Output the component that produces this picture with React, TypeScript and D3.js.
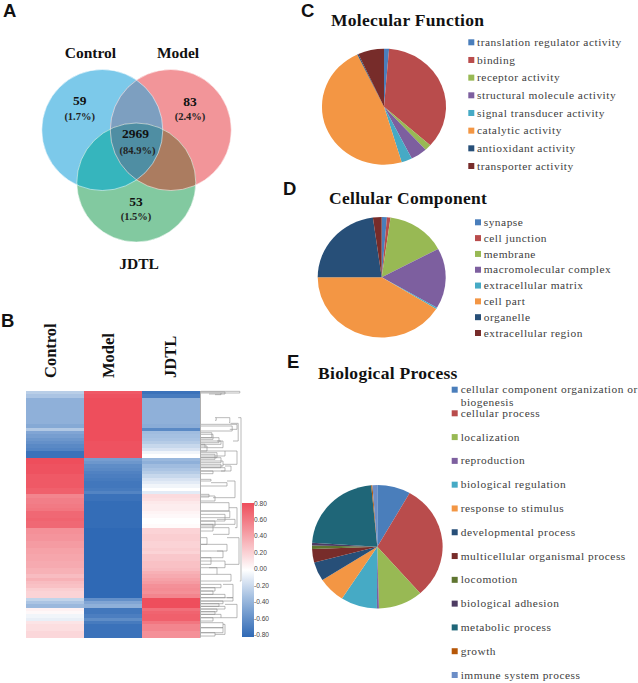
import React from 'react';
import * as d3 from 'd3';

const W = 638;
const H = 683;

// Venn
const vennLabels = ['Control', 'Model', 'JDTL'];
const vennCounts = ['59', '83', '53', '2969'];
const vennPercents = ['(1.7%)', '(2.4%)', '(1.5%)', '(84.9%)'];

// Heatmap, one value per row, top to bottom
const heatColumns = ['Control', 'Model', 'JDTL'];
const controlRows = [
  -0.25, -0.3, -0.4, -0.4, -0.4, -0.4, -0.4, -0.4, -0.4, -0.4, -0.44, -0.28, -0.46, -0.5, -0.54, -0.58, -0.62, -0.65, -0.75, -0.75,
  0.8, 0.8, 0.78, 0.78, 0.78, 0.75, 0.75, 0.75, 0.75, 0.72, 0.72,
  0.55, 0.58, 0.58, 0.6, 0.62, 0.68, 0.68, 0.7, 0.68, 0.68,
  0.5, 0.5, 0.48, 0.48, 0.45, 0.45, 0.42, 0.42, 0.4, 0.4, 0.38, 0.38, 0.35, 0.35, 0.3, 0.35, 0.3, 0.28, 0.22, 0.2, 0.2,
  -0.22, -0.3, -0.36, 0.06, 0.03, -0.05, -0.08, 0.12, 0.15, 0.15, 0.18, 0.18,
];
const modelRows = [
  0.75, 0.78, 0.8, 0.8, 0.8, 0.8, 0.8, 0.8, 0.8, 0.8, 0.8, 0.8, 0.8, 0.8, 0.8, 0.78, 0.78, 0.78, 0.78, 0.78,
  -0.5, -0.54, -0.6, -0.62, -0.66, -0.68, -0.7, -0.72, -0.72, -0.7, -0.65,
  -0.75, -0.75, -0.78, -0.78, -0.78, -0.78, -0.78, -0.78, -0.78, -0.78,
  -0.8, -0.8, -0.8, -0.8, -0.8, -0.8, -0.8, -0.8, -0.8, -0.8, -0.8, -0.8, -0.8, -0.8, -0.8, -0.8, -0.8, -0.8, -0.8, -0.8, -0.8,
  -0.58, -0.46, -0.4, -0.72, -0.72, -0.68, -0.6, -0.7, -0.75, -0.75, -0.75, -0.75,
];
const jdtlRows = [
  -0.75, -0.7, -0.4, -0.4, -0.4, -0.4, -0.4, -0.4, -0.4, -0.4, -0.42, -0.62, -0.34, -0.32, -0.3, -0.26, -0.2, -0.14, -0.05, 0,
  -0.36, -0.4, -0.34, -0.3, -0.26, -0.2, -0.14, -0.1, -0.05, 0, -0.1,
  0.16, 0.14, 0.1, 0.08, 0.08, 0.05, 0.03, 0, 0, 0.02,
  0.2, 0.2, 0.22, 0.22, 0.2, 0.2, 0.22, 0.2, 0.25, 0.25, 0.28, 0.28, 0.3, 0.35, 0.38, 0.42, 0.45, 0.5, 0.52, 0.5, 0.55,
  0.85, 0.8, 0.8, 0.65, 0.7, 0.72, 0.72, 0.62, 0.55, 0.55, 0.5, 0.5,
];
const heatTicks = [0.8, 0.6, 0.4, 0.2, 0, -0.2, -0.4, -0.6, -0.8];

// Dendrogram merges: top row, bottom row, join height, top child height, bottom child height
const merges = [
  [0.1, 0.6, 0.97, 0, 0.5], [0.6, 1.1, 0.5, 0, 0.35], [0.3, 0.9, 0.6, 0, 0.2],
  [8, 9.5, 0.72, 0.38, 0.7], [8, 8.8, 0.38, 0.35, 0.35], [10, 11.5, 0.9, 0, 0.72], [10.5, 12, 0.78, 0, 0],
  [9.7, 15, 0.93, 0.74, 0.8], [12.5, 14, 0.27, 0, 0], [13, 14.5, 0.3, 0, 0], [14, 15.5, 0.45, 0, 0], [15, 16, 0.5, 0, 0],
  [16, 17, 0.1, 0, 0], [16.5, 18, 0.15, 0, 0], [15, 17, 0.55, 0.4, 0.1],
  [8, 57, 1, 0.93, 0.97],
  [18, 19.5, 0.6, 0, 0], [18.5, 20, 0.4, 0, 0], [19, 20.5, 0.35, 0, 0], [20, 21.5, 0.5, 0, 0], [21, 22.5, 0.55, 0, 0],
  [22, 23, 0.5, 0, 0], [23, 24, 0.6, 0, 0], [24, 24.8, 0.3, 0, 0], [18, 22, 0.9, 0.6, 0.55], [22.5, 24, 0.75, 0.6, 0.5],
  [26.5, 27, 0.25, 0, 0], [27.5, 28.5, 0.65, 0.25, 0], [27, 32, 0.85, 0.65, 0.3], [31, 31.8, 0.2, 0, 0], [31.5, 33, 0.35, 0, 0],
  [33.5, 36, 0.7, 0, 0], [36, 38, 0.72, 0, 0], [37, 39, 0.6, 0, 0], [38.5, 40, 0.85, 0.4, 0], [39, 40.5, 0.35, 0, 0],
  [40, 42, 0.3, 0, 0], [41, 43, 0.7, 0, 0.3], [35, 41, 0.9, 0.7, 0.85],
  [44, 46, 0.15, 0, 0], [46, 48, 0.65, 0, 0.4], [48, 50, 0.55, 0, 0], [50, 52, 0.25, 0, 0], [51, 53, 0.6, 0, 0.2],
  [44, 52, 0.95, 0.65, 0.6], [53, 55, 0.4, 0, 0], [55, 57, 0.75, 0.4, 0],
  [58, 59, 0.5, 0, 0], [59, 60, 0.35, 0, 0], [60, 61, 0.3, 0, 0], [61, 62, 0.6, 0, 0], [58, 62, 0.8, 0.55, 0.65],
  [62, 63, 0.8, 0, 0], [63, 63.8, 0.55, 0, 0], [63.8, 64.6, 0.45, 0, 0], [64.6, 65.4, 0.6, 0, 0], [65.4, 66.2, 0.4, 0, 0],
  [66.2, 67, 0.35, 0, 0], [67, 68, 0.5, 0, 0], [68, 69, 0.3, 0, 0], [64, 68, 0.9, 0.6, 0.5],
  [69.5, 71, 0.55, 0, 0], [71, 72.5, 0.55, 0, 0], [72.5, 73.5, 0.35, 0, 0], [70, 73, 0.6, 0.55, 0.35],
];

// Pie C
const mfLabels = [
  'translation regulator activity', 'binding', 'receptor activity', 'structural molecule activity',
  'signal transducer activity', 'catalytic activity', 'antioxidant activity', 'transporter activity',
];
const mfValues = [1.3, 35.3, 1.7, 4.3, 2.8, 47.5, 0.3, 6.8];

// Pie D
const ccLabels = [
  'synapse', 'cell junction', 'membrane', 'macromolecular complex',
  'extracellular matrix', 'cell part', 'organelle', 'extracellular region',
];
const ccValues = [1.3, 0.9, 15, 16.2, 0.4, 41.2, 22.8, 2.2];

// Pie E
const bpLabels = [
  'cellular component organization or|biogenesis', 'cellular process', 'localization', 'reproduction',
  'biological regulation', 'response to stimulus', 'developmental process', 'multicellular organismal process',
  'locomotion', 'biological adhesion', 'metabolic process', 'growth', 'immune system process',
];
const bpValues = [8.25, 30.35, 11, 0.5, 9, 6.8, 5, 3.5, 0.9, 0.7, 22.5, 0.3, 1.2];

const pieColors = [
  '#4a7ebb', '#b94c4c', '#98b954', '#7d5f9f', '#46aac5', '#f39644', '#274f78', '#772c2a',
  '#5f7530', '#4d3b62', '#1f6678', '#b65708', '#6c8ec7',
];

const serif = '"Liberation Serif", serif';
const sans = '"Liberation Sans", sans-serif';

const heatColor = d3
  .scaleLinear<string>()
  .domain([-0.8, -0.4, 0, 0.4, 0.8])
  .range(['#2f69b5', '#8fb0d9', '#ffffff', '#f6a6ac', '#ee4e5c'])
  .clamp(true);

const Pie: React.FC<{ values: number[]; cx: number; cy: number; rx: number; ry: number }> = ({ values, cx, cy, rx, ry }) => {
  const arcs = d3.pie<number>().sort(null)(values);
  const arc = d3.arc<d3.PieArcDatum<number>>().innerRadius(0).outerRadius(1);
  return (
    <g transform={`translate(${cx},${cy}) scale(${rx},${ry})`}>
      {arcs.map((a, i) => (
        <path key={i} d={arc(a)!} fill={pieColors[i]} />
      ))}
    </g>
  );
};

const Legend: React.FC<{
  labels: string[];
  boxX: number;
  textX: number;
  rows: (i: number) => number;
  lineGap?: number;
}> = ({ labels, boxX, textX, rows, lineGap = 12.6 }) => (
  <g>
    {labels.map((label, i) => (
      <g key={label}>
        <rect x={boxX} y={rows(i) - 3} width={6} height={6} fill={pieColors[i]} />
        {label.split('|').map((line, j) => (
          <text
            key={j}
            x={textX}
            y={rows(i) + 3.6 + j * lineGap}
            fontFamily={serif}
            fontSize={11.4}
            letterSpacing={0.52}
            fill="#404040"
          >
            {line}
          </text>
        ))}
      </g>
    ))}
  </g>
);

const Venn: React.FC = () => {
  const circles = [
    { cx: 102.3, cy: 130, r: 60.5, fill: '#7cc9ea' },
    { cx: 170.8, cy: 130, r: 60.5, fill: '#f29599' },
    { cx: 136.3, cy: 182.5, r: 59.5, fill: '#82c9a0' },
  ];
  const [c, m, j] = circles;
  const countStyle = { fontFamily: serif, fontWeight: 700, fontSize: 13.5, textAnchor: 'middle' as const, fill: '#111' };
  const pctStyle = { fontFamily: serif, fontWeight: 700, fontSize: 10.5, textAnchor: 'middle' as const, fill: '#222' };
  const nameStyle = { fontFamily: serif, fontWeight: 700, fontSize: 15.5, textAnchor: 'middle' as const, fill: '#111' };
  const spots = [
    { x: 79.7, y: 105, py: 120 },
    { x: 190, y: 106, py: 120 },
    { x: 136, y: 206, py: 220 },
    { x: 135.5, y: 138, py: 154 },
  ];
  return (
    <g>
      <defs>
        <clipPath id="clipC"><circle cx={c.cx} cy={c.cy} r={c.r} /></clipPath>
        <clipPath id="clipM"><circle cx={m.cx} cy={m.cy} r={m.r} /></clipPath>
        <clipPath id="clipJ"><circle cx={j.cx} cy={j.cy} r={j.r} /></clipPath>
      </defs>
      {circles.map((d, i) => (
        <circle key={i} cx={d.cx} cy={d.cy} r={d.r} fill={d.fill} />
      ))}
      <g clipPath="url(#clipC)"><circle cx={m.cx} cy={m.cy} r={m.r} fill="#7d9fc0" /></g>
      <g clipPath="url(#clipC)"><circle cx={j.cx} cy={j.cy} r={j.r} fill="#36b5bd" /></g>
      <g clipPath="url(#clipM)"><circle cx={j.cx} cy={j.cy} r={j.r} fill="#ab7c60" /></g>
      <g clipPath="url(#clipC)">
        <g clipPath="url(#clipM)"><circle cx={j.cx} cy={j.cy} r={j.r} fill="#4f8ea3" /></g>
      </g>
      {circles.map((d, i) => (
        <circle key={i} cx={d.cx} cy={d.cy} r={d.r} fill="none" stroke="#ffffff" strokeOpacity={0.75} strokeWidth={0.7} />
      ))}
      <text x={90.5} y={58} {...nameStyle}>{vennLabels[0]}</text>
      <text x={178} y={58} {...nameStyle}>{vennLabels[1]}</text>
      <text x={139} y={269} {...nameStyle}>{vennLabels[2]}</text>
      {spots.map((s, i) => (
        <g key={i}>
          <text x={s.x} y={s.y} {...countStyle}>{vennCounts[i]}</text>
          <text x={s.x + (i === 3 ? 2 : 0)} y={s.py} {...pctStyle}>{vennPercents[i]}</text>
        </g>
      ))}
    </g>
  );
};

const Heatmap: React.FC = () => {
  const x = d3.scaleBand().domain(heatColumns).range([26, 200]);
  const rowIds = d3.range(controlRows.length);
  const y = d3.scaleBand<number>().domain(rowIds).range([391, 637.7]);
  const rowMid = d3.scaleLinear().domain([0, controlRows.length]).range([391, 637.7]);
  const depth = d3.scaleLinear().domain([0, 1]).range([201, 241]);
  const series = [controlRows, modelRows, jdtlRows];
  const tickY = d3.scalePoint<number>().domain(heatTicks).range([503, 634.5]);
  const stops = d3.range(0, 1.001, 0.1);
  const headX = [56, 114, 175.5];
  return (
    <g>
      {heatColumns.map((name, ci) => (
        <g key={name}>
          {rowIds.map(r => (
            <rect
              key={r}
              x={x(name)}
              y={y(r)}
              width={x.bandwidth()}
              height={y.bandwidth() + 0.5}
              fill={heatColor(series[ci][r])}
              shapeRendering="crispEdges"
            />
          ))}
          <text
            transform={`translate(${headX[ci]},378) rotate(-90)`}
            fontFamily={serif}
            fontWeight={700}
            fontSize={16.5}
            fill="#111"
          >
            {name}
          </text>
        </g>
      ))}
      <line x1={200.5} x2={200.5} y1={391} y2={637.7} stroke="#9a9a9a" strokeWidth={0.8} />
      <g fill="none" stroke="#8c8c8c" strokeWidth={0.6}>
        {merges.map(([r1, r2, d, d1, d2], i) => (
          <path
            key={i}
            d={`M${depth(d1)},${rowMid(r1)}H${depth(d)}V${rowMid(r2)}H${depth(d2)}`}
          />
        ))}
      </g>
      <defs>
        <linearGradient id="heatBar" x1="0" y1="0" x2="0" y2="1">
          {stops.map(t => (
            <stop key={t} offset={t} stopColor={heatColor(0.8 - 1.6 * t)} />
          ))}
        </linearGradient>
      </defs>
      <rect x={242} y={503} width={12} height={134} fill="url(#heatBar)" />
      {heatTicks.map(t => (
        <text key={t} x={254} y={tickY(t)! + 2.5} fontFamily={sans} fontSize={6.6} fill="#444">
          {d3.format('.2f')(t).replace('−', '-')}
        </text>
      ))}
    </g>
  );
};

export default function App() {
  const titleStyle = { fontFamily: serif, fontWeight: 700, fontSize: 17.5, fill: '#111', letterSpacing: 0.3 };
  const panelStyle = { fontFamily: sans, fontWeight: 700, fontSize: 18.5, fill: '#111' };
  const mfRow = d3.scaleLinear().domain([0, 7]).range([42.3, 166]);
  const ccRow = d3.scaleLinear().domain([0, 7]).range([222.3, 333]);
  const bpRow = d3.scaleLinear().domain([1, 12]).range([413.3, 675]);
  return (
    <svg
      width={W}
      height={H}
      viewBox={`0 0 ${W} ${H}`}
      style={{ position: 'absolute', left: 0, top: 0, background: '#fff' }}
    >
      <text x={3} y={17} {...panelStyle}>A</text>
      <text x={1} y={327} {...panelStyle}>B</text>
      <text x={301} y={17} {...panelStyle}>C</text>
      <text x={283} y={195} {...panelStyle}>D</text>
      <text x={287} y={368} {...panelStyle}>E</text>

      <Venn />
      <Heatmap />

      <text x={331} y={26} {...titleStyle}>Molecular Function</text>
      <Pie values={mfValues} cx={384} cy={106.7} rx={62} ry={58} />
      <Legend labels={mfLabels} boxX={468.3} textX={477} rows={mfRow} />

      <text x={329} y={204} {...titleStyle}>Cellular Component</text>
      <Pie values={ccValues} cx={381.7} cy={277.3} rx={64} ry={60.3} />
      <Legend labels={ccLabels} boxX={475} textX={483.7} rows={ccRow} />

      <text x={318} y={379} {...titleStyle}>Biological Process</text>
      <Pie values={bpValues} cx={377.3} cy={546.7} rx={65.3} ry={61.7} />
      <Legend
        labels={bpLabels}
        boxX={451.7}
        textX={460.7}
        rows={i => (i === 0 ? 389.7 : bpRow(i))}
      />
    </svg>
  );
}
